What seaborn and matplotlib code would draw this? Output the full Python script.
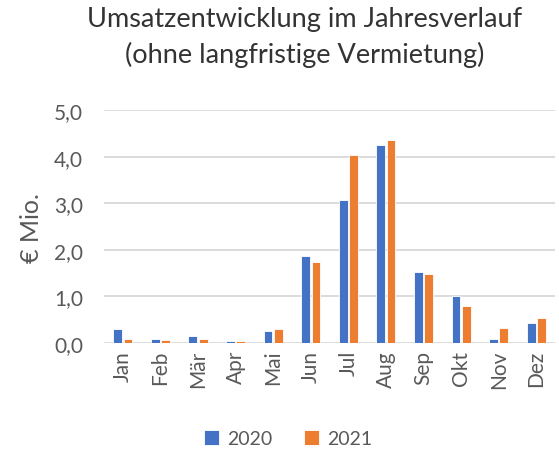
import pandas as pd
import matplotlib.pyplot as plt
import seaborn as sns

months = ["Jan", "Feb", "Mär", "Apr", "Mai", "Jun", "Jul", "Aug", "Sep", "Okt", "Nov", "Dez"]
umsatz_2020 = [0.31, 0.08, 0.15, 0.05, 0.26, 1.86, 3.07, 4.25, 1.52, 1.00, 0.08, 0.42]
umsatz_2021 = [0.08, 0.06, 0.08, 0.05, 0.30, 1.74, 4.04, 4.37, 1.48, 0.79, 0.33, 0.53]
years = ["2020", "2021"]

df = pd.DataFrame({
    "Monat": months * 2,
    "Umsatz": umsatz_2020 + umsatz_2021,
    "Jahr": [years[0]] * 12 + [years[1]] * 12,
})

sns.set_style("white")
plt.rcParams['font.family'] = ['Lato', 'DejaVu Sans']
grey = "#595959"

fig = plt.figure(figsize=(5.59, 4.52), dpi=100)
ax = fig.add_axes([0.186, 0.239, 0.807, 0.515])

sns.barplot(data=df, x="Monat", y="Umsatz", hue="Jahr",
            palette=["#4472C4", "#ED7D31"], saturation=1, width=0.55, gap=0.15,
            edgecolor="white", linewidth=0.6, ax=ax, zorder=3)

ax.set_ylim(0, 5)
ax.set_yticks([0, 1, 2, 3, 4, 5])
ax.set_yticklabels([f"{v:.1f}".replace(".", ",") for v in range(6)])
ax.grid(axis="y", color="#d9d9d9", linewidth=1.3, zorder=0)
ax.set_axisbelow(True)
for s in ax.spines.values():
    s.set_visible(False)
ax.tick_params(axis="both", length=0, colors=grey, labelsize=15)
ax.tick_params(axis="y", pad=15)
ax.tick_params(axis="x", rotation=90, pad=5)
ax.set_xlabel("")
ax.set_ylabel("€ Mio.", fontsize=18, color=grey, labelpad=8)
ax.set_xlim(-0.5, 11.5)

fig.suptitle("Umsatzentwicklung im Jahresverlauf\n(ohne langfristige Vermietung)",
             x=0.545, y=0.985, fontsize=19.5, color="#333333",
             linespacing=1.5)

ax.get_legend().remove()
handles, labels = ax.get_legend_handles_labels()
fig.legend(handles, labels, loc="center", bbox_to_anchor=(0.515, 0.027), ncol=2,
           frameon=False, fontsize=14, labelcolor=grey, handlelength=0.8,
           handleheight=0.8, columnspacing=1.6, handletextpad=0.4)

fig.savefig("out.png", dpi=100)
